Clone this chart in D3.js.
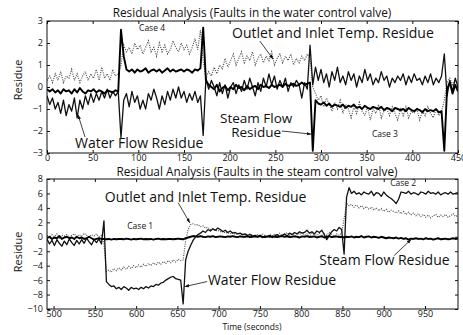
<!DOCTYPE html>
<html><head><meta charset="utf-8">
<script src="https://cdn.jsdelivr.net/npm/d3@7"></script>
<style>body{margin:0;background:#fff} text{font-family:"Open Sans",sans-serif;fill:#111}</style>
</head><body><svg id="c" width="463" height="335"></svg>
<script>
// ---------- DATA ----------
// Top panel: faults in the water control valve, t = 0..450, sampled every 3 s
const topStart = 0, topStep = 3;
const topXTicks = [0,50,100,150,200,250,300,350,400,450];
const topYTicks = [-3,-2,-1,0,1,2,3];
const waterTop = [
 -0.4,-0.8,-0.5,-1.0,-0.7,-1.2,-0.6,-1.3,-0.8,-1.1,
 -0.5,-1.4,-0.6,-1.0,-0.4,-0.8,-0.3,-0.7,-0.3,-0.6,
 -0.2,-0.5,-0.1,-0.5,-0.2,-0.4,-0.2,-2.3,-0.6,-0.3,
 -0.9,-0.2,-0.7,-0.4,-1.0,-0.6,-1.0,-0.3,-0.6,-0.1,
 -0.5,-1.0,-0.4,-0.8,-0.2,-0.6,-0.1,-0.5,0.0,-0.5,
 -0.2,-0.7,-0.3,-0.6,-0.2,-0.7,-0.4,-2.2,0.4,-0.1,
 0.3,0.0,-0.4,0.2,-0.3,0.1,-0.5,0.0,0.2,-0.3,
 0.1,-0.2,0.3,-0.1,0.4,0.0,-0.4,0.2,-0.2,0.4,
 0.0,0.6,0.1,0.5,-0.1,0.3,0.0,0.4,-0.2,0.2,
 0.0,0.3,0.1,-0.5,0.2,-0.1,1.9,0.1,0.9,0.3,
 0.8,0.2,0.6,0.0,0.7,0.3,0.9,0.2,0.5,0.1,
 0.7,0.3,0.6,0.0,0.5,0.2,0.8,0.3,0.6,0.1,
 0.4,0.2,0.7,0.3,0.5,0.0,0.4,0.2,0.5,0.3,
 0.6,0.1,0.5,0.2,0.6,0.3,0.4,0.1,0.5,0.2,
 0.6,0.1,0.4,0.2,0.5,1.5,-0.4,0.3,-0.2,0.4,
 0.0];
const steamTop = [
 -0.1,-0.2,-0.1,-0.25,-0.15,-0.3,-0.1,-0.2,-0.15,-0.3,
 -0.1,-0.25,-0.05,-0.2,-0.3,-0.15,-0.2,-0.1,-0.25,-0.15,
 -0.2,-0.3,-0.15,-0.2,-0.25,-0.15,-0.2,2.6,1.4,0.8,
 0.7,0.8,0.65,0.8,0.7,0.75,0.85,0.65,0.75,0.8,
 0.7,0.8,0.65,0.75,0.85,0.7,0.8,0.7,0.75,0.8,
 0.7,0.8,0.75,0.65,0.8,0.75,0.85,2.7,0.3,0.1,
 0.0,-0.1,0.1,-0.2,-0.05,0.05,-0.15,0.0,-0.1,0.1,
 -0.05,0.0,-0.15,0.05,-0.1,0.0,0.05,-0.1,0.1,0.0,
 0.05,-0.05,0.1,0.0,0.05,0.1,0.0,0.15,0.05,0.1,
 0.15,0.05,0.1,0.2,0.1,0.15,0.2,-2.9,-0.6,-0.75,
 -0.8,-0.7,-0.85,-0.75,-0.9,-0.8,-0.85,-0.9,-0.8,-0.95,
 -0.85,-0.9,-0.8,-0.95,-0.9,-1.0,-0.85,-0.95,-1.0,-0.9,
 -0.95,-1.0,-0.9,-1.05,-0.95,-1.0,-1.1,-0.95,-1.0,-1.05,
 -1.0,-1.1,-0.95,-1.05,-1.1,-1.0,-1.05,-1.15,-1.0,-1.1,
 -1.05,-1.1,-1.0,-1.15,-1.1,-2.9,-0.1,0.2,-0.3,0.1,
 -0.2];
const tempTop = [
 0.3,0.5,0.2,0.6,0.3,0.7,0.2,0.5,0.4,0.8,
 0.3,0.6,0.2,0.5,0.7,0.3,0.6,0.4,0.8,0.3,
 0.9,0.4,0.6,0.3,0.8,0.5,0.6,1.0,1.9,1.6,
 1.8,1.5,2.0,1.7,1.9,1.5,1.8,2.1,1.6,1.8,
 1.4,2.0,1.6,1.9,1.5,1.7,2.1,1.8,1.6,2.0,
 1.7,1.9,1.5,1.8,2.2,1.7,2.6,1.2,0.4,0.7,
 0.5,0.9,0.6,1.0,0.8,1.3,0.9,1.2,1.5,1.0,
 1.3,1.6,1.1,1.4,1.2,1.6,1.0,1.3,1.5,1.1,
 1.4,1.2,1.6,1.0,1.3,1.5,1.1,1.4,1.2,1.5,
 1.0,1.3,1.1,1.4,1.2,1.5,1.3,0.0,-0.3,-0.6,
 -0.4,-0.9,-0.5,-0.8,-1.1,-0.7,-1.0,-0.6,-1.2,-0.8,
 -1.0,-1.4,-0.9,-1.2,-0.7,-1.1,-1.3,-0.9,-1.5,-1.0,
 -1.2,-0.8,-1.4,-1.1,-1.0,-1.3,-0.9,-1.2,-1.5,-1.0,
 -1.3,-0.9,-1.4,-1.1,-1.2,-1.0,-1.5,-1.1,-1.3,-0.9,
 -1.2,-1.4,-1.0,-1.3,-1.1,-0.6,0.2,0.4,0.1,0.3,
 0.2];

// Bottom panel: faults in the steam control valve, t = 492..990, every 3 s
const botStart = 492, botStep = 3;
const botXTicks = [500,550,600,650,700,750,800,850,900,950];
const botYTicks = [-10,-8,-6,-4,-2,0,2,4,6,8];
const waterBot = [
 -0.3,-1.0,-0.5,-1.2,-0.4,-0.9,-1.3,-0.6,-1.1,-0.3,
 -0.8,-1.2,-0.5,-1.0,-0.4,-0.9,-0.2,-0.7,-1.1,-0.4,
 -0.8,-0.3,-1.0,2.2,-6.2,-6.6,-6.9,-6.8,-7.2,-7.0,
 -7.3,-6.9,-7.1,-7.4,-7.0,-7.2,-7.1,-7.3,-7.0,-7.2,
 -6.9,-7.1,-6.8,-6.9,-6.6,-6.7,-6.4,-6.3,-6.0,-5.8,
 -5.6,-5.5,-5.8,-5.9,-6.0,-9.3,-3.2,-2.0,-1.2,-0.5,
 0.0,0.3,0.5,0.8,0.6,1.0,0.8,1.1,0.9,1.2,
 1.0,0.7,0.9,0.6,0.8,0.5,0.6,0.4,0.5,0.3,
 0.4,0.2,0.3,0.1,0.2,0.0,0.2,-0.1,0.1,0.0,
 0.2,-0.1,0.1,0.3,0.0,0.2,0.4,0.1,0.5,0.3,
 0.6,0.4,0.7,0.5,0.6,0.9,0.5,0.7,0.4,0.8,
 0.6,0.9,0.3,-0.4,0.2,0.7,1.0,0.8,1.3,1.0,
 -2.4,5.5,6.8,6.0,6.3,5.9,6.1,5.8,6.2,6.0,
 5.9,6.3,5.7,6.1,6.0,5.6,6.2,5.8,5.5,5.3,
 5.0,4.6,5.2,6.2,6.1,6.0,6.3,5.9,6.1,6.0,
 5.8,6.2,6.1,5.9,6.3,6.0,6.1,5.9,6.2,5.8,
 6.0,6.1,5.9,6.2,5.9,6.0,6.1];
const steamBot = [
 -0.2,0.0,-0.3,-0.1,-0.2,0.1,-0.3,-0.1,0.0,-0.2,
 -0.1,-0.3,0.0,-0.2,-0.1,-0.3,-0.2,0.0,-0.2,-0.4,
 -0.3,-0.2,-0.3,-0.3,-0.35,-0.3,-0.4,-0.3,-0.35,-0.3,
 -0.3,-0.35,-0.25,-0.3,-0.4,-0.3,-0.35,-0.3,-0.25,-0.35,
 -0.3,-0.35,-0.3,-0.4,-0.3,-0.25,-0.35,-0.3,-0.35,-0.3,
 -0.3,-0.35,-0.3,-0.25,-0.3,-0.35,-0.2,-0.1,0.0,0.1,
 0.05,0.0,0.1,0.0,-0.05,0.05,0.0,0.1,-0.05,0.0,
 0.05,0.0,-0.05,0.05,0.0,0.1,0.0,-0.05,0.05,0.0,
 0.0,0.05,-0.05,0.0,0.05,0.0,0.1,0.0,-0.05,0.05,
 0.0,0.05,0.0,-0.05,0.05,0.1,0.0,0.05,-0.05,0.0,
 0.05,0.0,-0.1,0.05,0.0,0.1,-0.05,0.0,0.05,-0.1,
 0.0,0.05,-0.1,0.0,0.1,-0.05,0.0,0.05,-0.05,0.0,
 -0.1,0.0,-0.05,0.05,-0.1,0.0,-0.05,0.1,-0.1,0.0,
 0.05,-0.1,0.0,-0.05,-0.15,0.0,-0.1,-0.2,-0.1,-0.15,
 -0.2,-0.1,-0.25,-0.15,-0.3,-0.2,-0.4,-0.25,-0.3,-0.2,
 -0.3,-0.25,-0.35,-0.2,-0.3,-0.25,-0.4,-0.3,-0.2,-0.35,
 -0.3,-0.25,-0.35,-0.3,-0.2,-0.3,-0.25];
const tempBot = [
 0.2,-0.1,0.3,0.0,0.4,-0.2,0.2,0.1,0.3,-0.1,
 0.2,0.4,0.0,0.3,0.1,0.5,0.2,0.0,0.3,0.1,
 0.4,0.0,0.2,-1.0,-4.8,-4.6,-4.9,-4.4,-4.7,-4.3,
 -4.6,-4.2,-4.5,-4.1,-4.4,-4.0,-4.3,-3.9,-4.2,-3.8,
 -4.1,-3.7,-4.0,-3.6,-3.9,-3.5,-3.8,-3.4,-3.7,-3.3,
 -3.6,-3.2,-3.5,-3.1,-3.3,-3.2,-0.5,1.0,1.7,1.8,
 1.6,1.7,1.4,1.5,1.2,1.3,1.0,1.1,0.8,0.9,
 0.7,0.8,0.5,0.6,0.4,0.6,0.3,0.5,0.2,0.4,
 0.3,0.1,0.4,0.2,0.0,0.3,0.1,0.4,0.2,0.0,
 0.3,0.1,0.4,0.2,0.5,0.1,0.3,0.6,0.2,0.4,
 0.1,0.5,0.3,0.6,0.2,0.4,0.1,0.5,0.3,0.2,
 0.5,0.1,0.4,0.2,0.6,0.3,0.1,0.4,0.2,0.5,
 2.5,4.6,4.3,4.5,4.1,4.4,4.0,4.3,3.9,4.2,
 3.8,4.1,3.7,4.0,3.6,3.9,3.5,3.8,3.4,3.7,
 3.5,3.3,3.6,3.2,3.5,3.1,3.4,3.0,3.3,2.9,
 3.2,2.8,3.1,2.7,3.0,2.6,2.9,3.1,2.7,3.0,
 2.8,3.1,2.7,2.9,3.2,2.8,3.0];

const titles = ["Residual Analysis (Faults in the water control valve)",
                "Residual Analysis (Faults in the steam control valve)"];

// ---------- DRAW ----------
const svg = d3.select("#c");
const defs = svg.append("defs");
defs.append("marker").attr("id","ah").attr("viewBox","0 0 10 10").attr("refX",9).attr("refY",5)
  .attr("markerWidth",6).attr("markerHeight",6).attr("orient","auto-start-reverse")
  .append("path").attr("d","M0,1.5L10,5L0,8.5Z").attr("fill","#111");

function panel(cfg){
  const x = d3.scaleLinear().domain(cfg.xDomain).range([47,458]);
  const y = d3.scaleLinear().domain(cfg.yDomain).range([cfg.bottom, cfg.top]);
  const g = svg.append("g");
  const cid = "clip"+cfg.id;
  defs.append("clipPath").attr("id",cid).append("rect")
    .attr("x",47).attr("y",cfg.top).attr("width",411).attr("height",cfg.bottom-cfg.top);

  const line = d3.line().x((d,i)=>x(cfg.start + i*cfg.step)).y(d=>y(d));
  const lg = g.append("g").attr("clip-path",`url(#${cid})`);
  lg.append("path").attr("d",line(cfg.temp)).attr("fill","none")
    .attr("stroke","#444").attr("stroke-width",1.1).attr("stroke-dasharray","1 1.3");
  lg.append("path").attr("d",line(cfg.water)).attr("fill","none")
    .attr("stroke","#111").attr("stroke-width",1.3).attr("stroke-linejoin","round");
  lg.append("path").attr("d",line(cfg.steam)).attr("fill","none")
    .attr("stroke","#000").attr("stroke-width",1.9).attr("stroke-linejoin","round");

  const ax = (gen, tr) => {
    const a = g.append("g").attr("transform",tr).call(gen);
    a.select(".domain").remove();
    a.selectAll("text").style("font-size","9px").attr("fill","#111");
    a.selectAll("line").attr("stroke","#111");
    return a;
  };
  ax(d3.axisBottom(x).tickValues(cfg.xTicks).tickSize(-3).tickPadding(2).tickFormat(d3.format("")), `translate(0,${cfg.bottom})`);
  ax(d3.axisTop(x).tickValues(cfg.xTicks).tickSize(-3).tickFormat(""), `translate(0,${cfg.top})`);
  ax(d3.axisLeft(y).tickValues(cfg.yTicks).tickSize(-3).tickPadding(4).tickFormat(d3.format("")), `translate(47,0)`);
  ax(d3.axisRight(y).tickValues(cfg.yTicks).tickSize(-3).tickFormat(""), `translate(458,0)`);

  g.append("rect").attr("x",47).attr("y",cfg.top).attr("width",411).attr("height",cfg.bottom-cfg.top)
    .attr("fill","none").attr("stroke","#111").attr("stroke-width",1);

  g.append("text").attr("x",cfg.titleX).attr("y",cfg.titleY).attr("text-anchor","middle")
    .style("font-size","11.8px").text(cfg.title);
  g.append("text").attr("transform",`translate(22,${cfg.ylabY}) rotate(-90)`).attr("text-anchor","middle")
    .style("font-size","11px").text("Residue");

  cfg.labels.forEach(l=>{
    const t = g.append("text").attr("x",x(l.t)).attr("y",y(l.v)).attr("text-anchor",l.anchor||"start")
      .style("font-size",l.size+"px");
    const lines = l.text.split("\n");
    lines.forEach((s,k)=>{
      t.append("tspan").attr("x",x(l.t)).attr("dy",k===0?0:"1.05em").text(s);
    });
  });
  cfg.arrows.forEach(a=>{
    g.append("line").attr("x1",x(a.t1)).attr("y1",y(a.v1)).attr("x2",x(a.t2)).attr("y2",y(a.v2))
      .attr("stroke","#111").attr("stroke-width",0.8).attr("marker-end","url(#ah)");
  });
}

const big = 14, small = 8.5;
panel({id:1, xDomain:[0,450], yDomain:[-3,3], top:21, bottom:153, start:topStart, step:topStep,
  xTicks:topXTicks, yTicks:topYTicks, water:waterTop, steam:steamTop, temp:tempTop,
  title:titles[0], titleX:252, titleY:17, ylabY:80,
  labels:[
    {text:"Case 4", t:115, v:2.55, size:small, anchor:"middle"},
    {text:"Outlet and Inlet Temp. Residue", t:202.6, v:2.23, size:big},
    {text:"Water Flow Residue", t:30.7, v:-2.77, size:big},
    {text:"Steam Flow\nResidue", t:229, v:-1.62, size:13.5, anchor:"middle"},
    {text:"Case 3", t:370, v:-2.27, size:small, anchor:"middle"}
  ],
  arrows:[
    {t1:233, v1:2.09, t2:247.5, v2:1.27},
    {t1:41.6, v1:-2.27, t2:34, v2:-1.27},
    {t1:257, v1:-2.0, t2:289, v2:-2.14}
  ]});

panel({id:2, xDomain:[492,990], yDomain:[-10,8], top:179, bottom:309, start:botStart, step:botStep,
  xTicks:botXTicks, yTicks:botYTicks, water:waterBot, steam:steamBot, temp:tempBot,
  title:titles[1], titleX:257, titleY:176, ylabY:252,
  labels:[
    {text:"Outlet and Inlet Temp. Residue", t:562, v:4.85, size:big},
    {text:"Case 1", t:605, v:1.1, size:small, anchor:"middle"},
    {text:"Water Flow Residue", t:687, v:-6.65, size:big},
    {text:"Case 2", t:923.5, v:7.06, size:small, anchor:"middle"},
    {text:"Steam Flow Residue", t:822, v:-3.9, size:big}
  ],
  arrows:[
    {t1:651, v1:4.7, t2:665, v2:1.94},
    {t1:686, v1:-6.2, t2:659, v2:-6.9},
    {t1:912.6, v1:-2.6, t2:933, v2:-0.4}
  ]});

svg.append("text").attr("x",252).attr("y",330).attr("text-anchor","middle")
  .style("font-size","8.5px").text("Time (seconds)");
</script></body></html>
